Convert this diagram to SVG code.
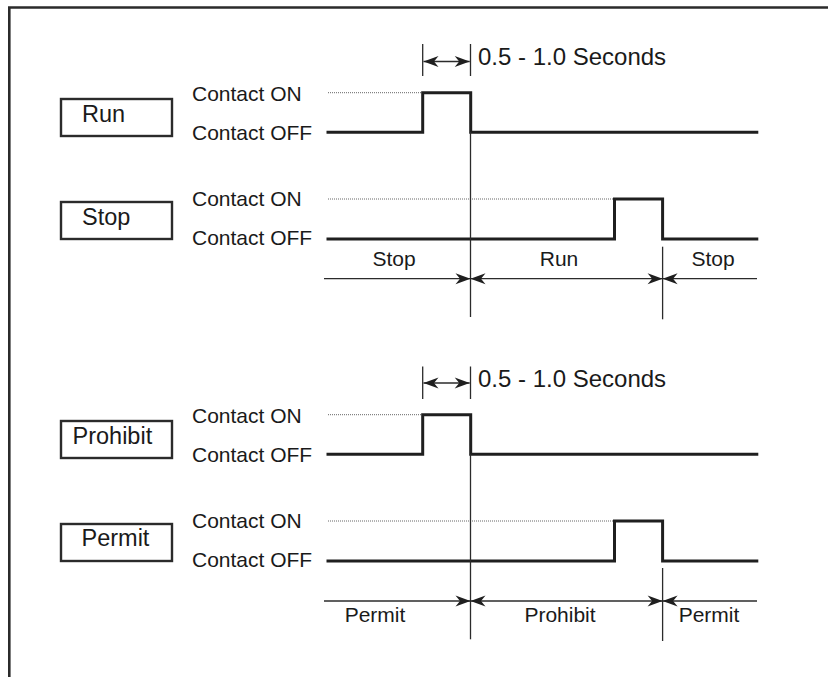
<svg xmlns="http://www.w3.org/2000/svg" width="828" height="677" viewBox="0 0 828 677">
<style>
text{font-family:"Liberation Sans",Arial,sans-serif;fill:#1a1a1a}
.lbl{font-size:23.5px}
.ct{font-size:21px}
.sec{font-size:24px}
.seg{font-size:21px;text-anchor:middle}
.box{fill:#fff;stroke:#2b2b2b;stroke-width:2.4}
.sig{fill:none;stroke:#1f1f1f;stroke-width:3;stroke-linejoin:miter}
.dot{stroke:#666;stroke-width:1;stroke-dasharray:1 1;fill:none}
.thin{stroke:#2b2b2b;stroke-width:1.3;fill:none}
.arr{stroke:#2b2b2b;stroke-width:1.3;fill:none;marker-end:url(#ah);marker-start:url(#ah)}
.arrE{stroke:#2b2b2b;stroke-width:1.3;fill:none;marker-end:url(#ah)}
.arrS{stroke:#2b2b2b;stroke-width:1.3;fill:none;marker-start:url(#ah)}
.frame{stroke:#2b2b2b;stroke-width:2.6;fill:none}
</style>
<defs>
<marker id="ah" markerUnits="userSpaceOnUse" viewBox="-16 -7 17 14" markerWidth="17" markerHeight="14" refX="0" refY="0" orient="auto-start-reverse">
<path d="M0,0 L-15,-5.5 L-10.5,0 L-15,5.5 Z" fill="#1f1f1f"/>
</marker>
</defs>
<rect width="828" height="677" fill="#fff"/>
<path class="frame" d="M9.3,677 V7.5 H828"/>

<g id="node-run">
<rect class="box" x="61" y="99" width="111" height="37"/>
<text class="lbl" x="82" y="122">Run</text>
</g>
<g id="node-stop">
<rect class="box" x="61" y="202" width="111" height="37"/>
<text class="lbl" x="82" y="225">Stop</text>
</g>
<g id="node-prohibit">
<rect class="box" x="61" y="421" width="111" height="37"/>
<text class="lbl" x="72.5" y="444">Prohibit</text>
</g>
<g id="node-permit">
<rect class="box" x="61" y="524" width="111" height="37"/>
<text class="lbl" x="81.5" y="546">Permit</text>
</g>

<g id="labels">
<text class="ct" x="192" y="101">Contact ON</text>
<text class="ct" x="192" y="140">Contact OFF</text>
<text class="ct" x="192" y="206">Contact ON</text>
<text class="ct" x="192" y="245">Contact OFF</text>
<text class="ct" x="192" y="423">Contact ON</text>
<text class="ct" x="192" y="462">Contact OFF</text>
<text class="ct" x="192" y="528">Contact ON</text>
<text class="ct" x="192" y="567">Contact OFF</text>
<text class="sec" x="478" y="65">0.5 - 1.0 Seconds</text>
<text class="sec" x="478" y="387">0.5 - 1.0 Seconds</text>
<text class="seg" x="394" y="266">Stop</text>
<text class="seg" x="559" y="266">Run</text>
<text class="seg" x="713" y="266">Stop</text>
<text class="seg" x="375" y="622">Permit</text>
<text class="seg" x="560" y="622">Prohibit</text>
<text class="seg" x="709" y="622">Permit</text>
</g>

<g id="connectors">
<!-- dotted ON levels -->
<path class="dot" d="M328,92.7 H422"/>
<path class="dot" d="M328,199 H614"/>
<path class="dot" d="M328,414.7 H422"/>
<path class="dot" d="M328,521 H614"/>
<!-- signals -->
<path class="sig" d="M326.5,132.3 H422.7 V92.7 H470.7 V132.3 H758.3"/>
<path class="sig" d="M326.5,239 H614.5 V199 H662.6 V239 H758.3"/>
<path class="sig" d="M326.5,454.3 H422.7 V414.7 H470.7 V454.3 H758.3"/>
<path class="sig" d="M326.5,561 H614.5 V521 H662.6 V561 H758.3"/>
<!-- timing ticks -->
<path class="thin" d="M422.7,44 V76 M470.5,44 V76"/>
<path class="arr" d="M423.5,61.5 H469.7"/>
<path class="thin" d="M422.7,366.5 V399 M470.5,366.5 V399"/>
<path class="arr" d="M423.5,383 H469.7"/>
<!-- boundary verticals -->
<path class="thin" d="M470.5,132 V317"/>
<path class="thin" d="M662.6,246.7 V319.3"/>
<path class="thin" d="M470.5,454 V639.3"/>
<path class="thin" d="M662.6,568 V641"/>
<!-- segment arrows -->
<path class="arrE" d="M324,278.7 H470.5"/>
<path class="arr" d="M470.5,278.7 H662.6"/>
<path class="arrS" d="M662.6,278.7 H757"/>
<path class="arrE" d="M324,601 H470.5"/>
<path class="arr" d="M470.5,601 H662.6"/>
<path class="arrS" d="M662.6,601 H757"/>
</g>
</svg>
